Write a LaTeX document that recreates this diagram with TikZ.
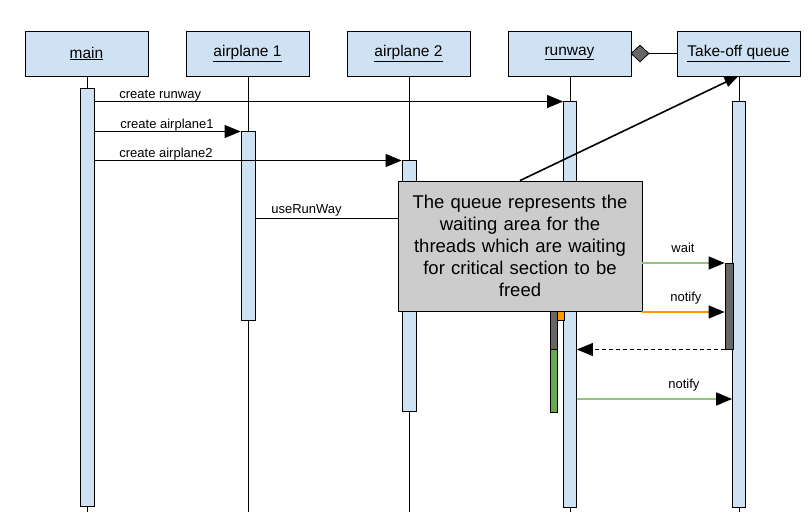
\documentclass[tikz,border=0pt]{standalone}
\usepackage{fontspec}
\setmainfont{Liberation Sans}
\usetikzlibrary{arrows.meta,positioning,shapes.geometric}
\definecolor{barblue}{HTML}{CFE2F3}
\definecolor{notegray}{HTML}{CCCCCC}
\definecolor{darkbar}{HTML}{666666}
\definecolor{greenbar}{HTML}{6AA84F}
\definecolor{greenmsg}{HTML}{93C47D}
\definecolor{orangemsg}{HTML}{FF9900}

\begin{document}
\begin{tikzpicture}[x=1pt,y=-1pt,line width=0.8pt,>={Triangle[length=16pt,width=13pt,color=black]},
  head/.style={draw,fill=barblue,minimum width=123pt,minimum height=45pt,inner sep=0pt,outer sep=0pt,font=\fontsize{15.5}{18}\selectfont},
  bar/.style={draw,fill=barblue,minimum width=14pt,inner sep=0pt,anchor=north},
  lbl/.style={font=\fontsize{13}{15}\selectfont,inner sep=0pt,anchor=base west},
  greenline/.style={draw=greenmsg,line width=1.6pt},
  orangeline/.style={draw=orangemsg,line width=1.6pt}]
  \useasboundingbox (0,0) rectangle (811,526);

  % objects
  \node [head] (main) at (86.5,53.5) {\underline{main}};
  \node [head,right=38pt of main] (air1) {\underline{airplane 1}};
  \node [head,right=38pt of air1] (air2) {\underline{airplane 2}};
  \node [head,right=38pt of air2] (runway) {\underline{runway}};
  \node [head,right=46pt of runway] (queue) {\underline{Take-off queue}};
  \node [diamond,draw,fill=darkbar,minimum width=18pt,minimum height=17pt,inner sep=0pt] (agg) at (640,53.5) {};
  \draw (agg) -- (queue);

  % message rows
  \coordinate (rRun) at (0,101.5);
  \coordinate (rA1) at (0,131.5);
  \coordinate (rA2) at (0,160.5);
  \coordinate (rUse) at (0,218.5);
  \coordinate (rWait) at (0,263);
  \coordinate (rNotA) at (0,312);
  \coordinate (rBack) at (0,349.5);
  \coordinate (rNotB) at (0,399);
  \coordinate (rEnd) at (0,512);

  % lifelines
  \foreach \n in {main,air1,air2,runway,queue}
    \draw ([xshift=0.5pt]\n.south) -- ([xshift=0.5pt]\n.south |- rEnd);

  % activations
  \node [bar,minimum height=418pt] (mainbar) at ([xshift=0.5pt]main.south |- 0,88) {};
  \node [bar,minimum height=189pt] (a1bar) at ([xshift=0.5pt]air1.south |- rA1) {};
  \node [bar,minimum height=250pt] (a2bar) at ([xshift=0.5pt]air2.south |- rA2) {};
  \node [bar,minimum height=405pt,minimum width=13pt] (runbar) at ([xshift=0.5pt]runway.south |- rRun) {};
  \node [bar,minimum height=405pt,minimum width=13pt] (queuebar) at ([xshift=0.5pt]queue.south |- rRun) {};
  \node [bar,fill=darkbar,minimum height=86pt,minimum width=8pt] (waitbar) at (729,263) {};
  \node [bar,fill=darkbar,minimum height=49pt,minimum width=7pt] (holdbar) at (553.5,300) {};
  \node [bar,fill=greenbar,minimum height=62pt,minimum width=7pt] (runbarB) at (553.5,349.5) {};
  \node [bar,fill=orangemsg,minimum height=15pt,minimum width=7pt] (lockbar) at (560.5,305) {};

  % messages
  \draw [->] (mainbar.east |- rRun) -- (runbar.west |- rRun);
  \node [lbl] at (119,98.5) {create runway};
  \draw [->] (mainbar.east |- rA1) -- (a1bar.west |- rA1);
  \node [lbl] at (120,128.5) {create airplane1};
  \draw [->] (mainbar.east |- rA2) -- (a2bar.west |- rA2);
  \node [lbl] at (119,157.5) {create airplane2};

  % note
  \node [draw,fill=notegray,minimum width=244pt,minimum height=130pt,text width=236pt,align=center,inner sep=0pt,
    font=\fontsize{18.5}{22}\selectfont] (note) at (520,246)
    {The queue represents the\\ waiting area for the\\ threads which are waiting\\ for critical section to be\\ freed};

  \draw (a1bar.east |- rUse) -- (note.west |- rUse);
  \node [lbl] at (271,214) {useRunWay};
  \draw [greenline,->] (note.east |- rWait) -- (waitbar.west |- rWait);
  \node [lbl] at (671,253) {wait};
  \draw [orangeline,->] (note.east |- rNotA) -- (waitbar.west |- rNotA);
  \node [lbl] at (670,301.5) {notify};
  \draw [->,dash pattern=on 4pt off 3pt] (waitbar.west |- rBack) -- (runbar.east |- rBack);
  \draw [greenline,->] (runbar.east |- rNotB) -- (queuebar.west |- rNotB);
  \node [lbl] at (668,388.5) {notify};

  \draw [->,line width=1.6pt,>={Triangle[length=14pt,width=10pt]}] (note.north) -- (queue.south);
\end{tikzpicture}
\end{document}
